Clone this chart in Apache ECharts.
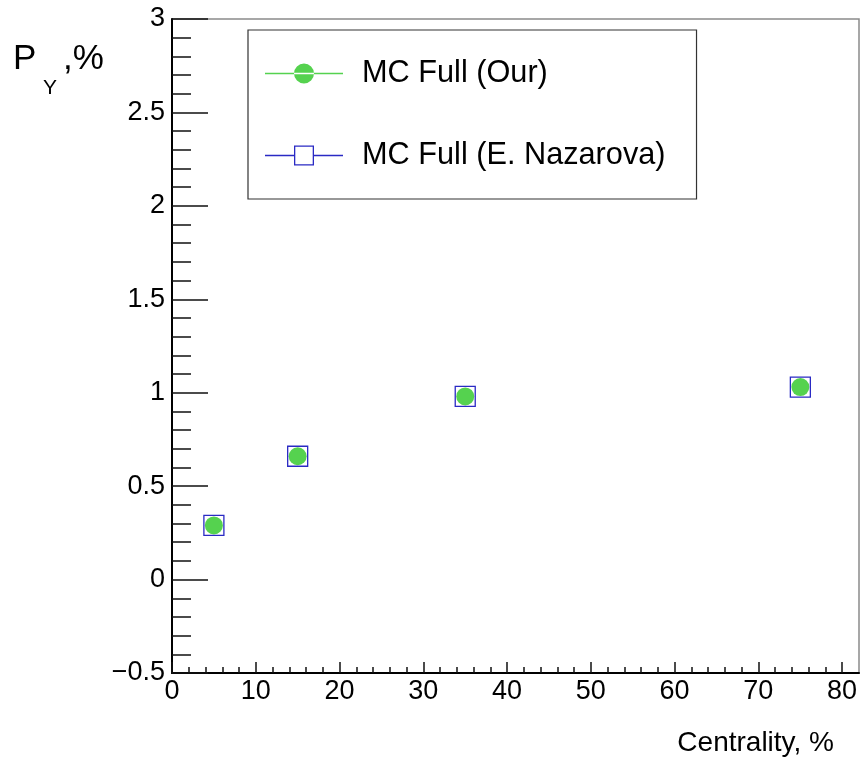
<!DOCTYPE html>
<html>
<head>
<meta charset="utf-8">
<script src="https://cdn.jsdelivr.net/npm/echarts@6/dist/echarts.min.js"></script>
<style>
  html, body { margin: 0; padding: 0; background: #fff; }
  #chart { width: 861px; height: 765px; }
</style>
</head>
<body>
<div id="chart"></div>
<script>
// Centrality bins (bin centres, %) and polarization P_Y (%)
const centrality = [5, 15, 35, 75];
const pyOur = [0.29, 0.66, 0.98, 1.03];
const pyNazarova = [0.29, 0.66, 0.98, 1.03];
const seriesNames = ['MC Full (Our)', 'MC Full (E. Nazarova)'];

const FONT = '"Liberation Sans", Arial, Helvetica, sans-serif';
const GREEN = '#55d24f';
const BLUE = '#2a2ac4';

// Legend glyphs: a thin horizontal line through the marker (78 px wide)
const ICON_CIRCLE = 'path://M0,12 L78,12 L78,13.5 L0,13.5 Z ' +
  'M29,12.75 A10,10 0 1,0 49,12.75 A10,10 0 1,0 29,12.75 Z';
const ICON_SQUARE = 'path://M0,12 L29,12 L29,13.5 L0,13.5 Z M49,12 L78,12 L78,13.5 L49,13.5 Z ' +
  'M29,2.75 L49,2.75 L49,22.75 L29,22.75 Z M30.3,4.05 L30.3,21.45 L47.7,21.45 L47.7,4.05 Z';

const pairs = (xs, ys) => xs.map((x, i) => [x, ys[i]]);

const chart = echarts.init(document.getElementById('chart'), null, { renderer: 'canvas' });

chart.setOption({
  animation: false,
  backgroundColor: '#fff',
  grid: [
    // frame holding the data (x range 0..82)
    { left: 172, top: 19, width: 687, height: 654, show: true, borderColor: '#8a8a8a', borderWidth: 1.5, backgroundColor: 'transparent' },
    // same origin, x range 0..80 used for the tick marks and labels
    { left: 172, top: 19, width: 670, height: 654 }
  ],
  xAxis: [
    {
      gridIndex: 0, type: 'value', min: 0, max: 82,
      axisLine: { show: true, onZero: false, lineStyle: { color: '#000', width: 2 } },
      axisTick: { show: false }, axisLabel: { show: false }, splitLine: { show: false }
    },
    {
      gridIndex: 1, type: 'value', min: 0, max: 80, interval: 10,
      axisLine: { show: false, onZero: false },
      axisTick: { show: true, inside: true, length: 11, lineStyle: { color: '#111', width: 1.5 } },
      minorTick: { show: true, splitNumber: 5, length: 6, lineStyle: { color: '#111', width: 1.5 } },
      axisLabel: { show: true, margin: 5, fontSize: 27, lineHeight: 27, color: '#000', fontFamily: FONT },
      splitLine: { show: false }
    }
  ],
  yAxis: [
    {
      gridIndex: 0, type: 'value', min: -0.5, max: 3, interval: 0.5,
      axisLine: { show: true, onZero: false, lineStyle: { color: '#000', width: 2 } },
      axisTick: { show: true, inside: true, length: 36, lineStyle: { color: '#111', width: 1.5 } },
      minorTick: { show: true, splitNumber: 5, length: 19, lineStyle: { color: '#111', width: 1.5 } },
      axisLabel: {
        show: true, margin: 7, fontSize: 27, color: '#000', fontFamily: FONT,
        formatter: v => (v < 0 ? '\u2212' + Math.abs(v) : String(v))
      },
      splitLine: { show: false }
    },
    { gridIndex: 1, type: 'value', min: -0.5, max: 3, show: false }
  ],
  legend: {
    orient: 'vertical', left: 248, top: 30,
    padding: [28, 31, 28, 17], itemGap: 51,
    itemWidth: 78, itemHeight: 25,
    borderColor: '#333', borderWidth: 1.2, backgroundColor: '#fff',
    textStyle: { fontSize: 30.7, color: '#000', fontFamily: FONT, padding: [0, 0, 0, 14] },
    data: [
      { name: seriesNames[0], icon: ICON_CIRCLE, itemStyle: { color: GREEN, borderWidth: 0 } },
      { name: seriesNames[1], icon: ICON_SQUARE, itemStyle: { color: BLUE, borderWidth: 0 } }
    ]
  },
  series: [
    {
      name: seriesNames[0], type: 'scatter', xAxisIndex: 0, yAxisIndex: 0,
      data: pairs(centrality, pyOur),
      symbol: 'circle', symbolSize: 18,
      itemStyle: { color: GREEN, opacity: 1 },
      z: 3
    },
    {
      name: seriesNames[1], type: 'scatter', xAxisIndex: 0, yAxisIndex: 0,
      data: pairs(centrality, pyNazarova),
      symbol: 'rect', symbolSize: 20,
      itemStyle: { color: 'rgba(0,0,0,0)', borderColor: BLUE, borderWidth: 1.3, opacity: 1 },
      z: 4
    }
  ],
  graphic: [
    { type: 'text', left: 13, top: 42, style: { text: 'P', fontSize: 35, fill: '#000', fontFamily: FONT } },
    { type: 'text', left: 43, top: 78, style: { text: 'Y', fontSize: 21, fill: '#000', fontFamily: FONT } },
    { type: 'text', left: 63, top: 42, style: { text: ',%', fontSize: 35, fill: '#000', fontFamily: FONT } },
    { type: 'text', right: 27, top: 729, style: { text: 'Centrality, %', fontSize: 28, fill: '#000', fontFamily: FONT } }
  ]
});
</script>
</body>
</html>
